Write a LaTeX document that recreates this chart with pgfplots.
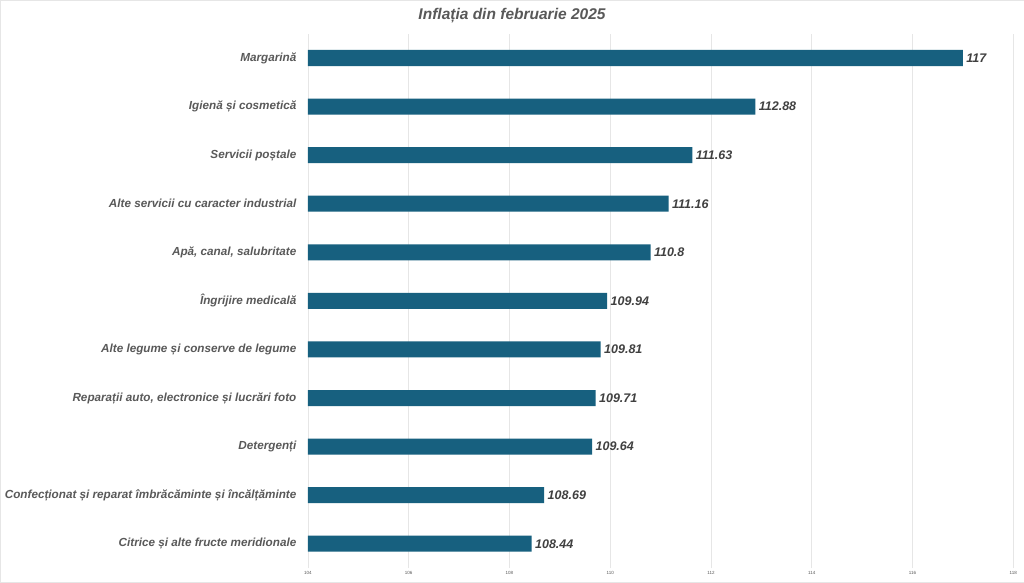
\documentclass[border=0pt]{standalone}
\usepackage{pgfplots}
\pgfplotsset{compat=1.18}
\usepackage{fontspec}
\setmainfont{Liberation Sans}
\definecolor{barc}{HTML}{17607F}
\definecolor{lab}{HTML}{595959}
\definecolor{val}{HTML}{404040}
\definecolor{grd}{HTML}{E6E6E6}
\begin{document}
\begin{tikzpicture}[x=1pt,y=1pt]
\draw[draw=grd,fill=white] (0.5,0.5) rectangle (1023.5,582.5);
\node[text=lab,font=\fontsize{15.5}{18}\selectfont\bfseries\itshape] at (512,567) {Inflația din februarie 2025};
\begin{axis}[
  at={(308pt,15pt)}, anchor=south west,
  scale only axis, width=705pt, height=534pt,
  xbar, bar width=16pt,
  xmin=104, xmax=118, ymin=-0.5, ymax=10.5,
  xtick={104,106,...,118},
  xticklabel style={font=\fontsize{4.5}{5}\selectfont, text=lab},
  /pgf/number format/assume math mode=true,
  xmajorgrids, grid style={grd, line width=0.6pt},
  axis line style={draw=none},
  major tick length=0pt,
  ytick={0,...,10},
  yticklabels={Citrice și alte fructe meridionale,
    Confecționat și reparat îmbrăcăminte și încălțăminte,
    Detergenți,
    {Reparații auto, electronice și lucrări foto},
    Alte legume și conserve de legume,
    Îngrijire medicală,
    {Apă, canal, salubritate},
    Alte servicii cu caracter industrial,
    Servicii poștale,
    Igienă și cosmetică,
    Margarină},
  yticklabel style={font=\fontsize{11.7}{13}\selectfont\bfseries\itshape, text=lab, xshift=-8pt},
  nodes near coords,
  point meta=explicit symbolic,
  every node near coord/.append style={font=\fontsize{12.5}{14}\selectfont\bfseries\itshape, text=val, anchor=west, xshift=0pt},
  clip=false,
]
\addplot[fill=barc, draw=none] table[meta=lbl] {
x y lbl
108.44 0 108.44
108.69 1 108.69
109.64 2 109.64
109.71 3 109.71
109.81 4 109.81
109.94 5 109.94
110.8 6 110.8
111.16 7 111.16
111.63 8 111.63
112.88 9 112.88
117 10 117
};
\end{axis}
\end{tikzpicture}
\end{document}
